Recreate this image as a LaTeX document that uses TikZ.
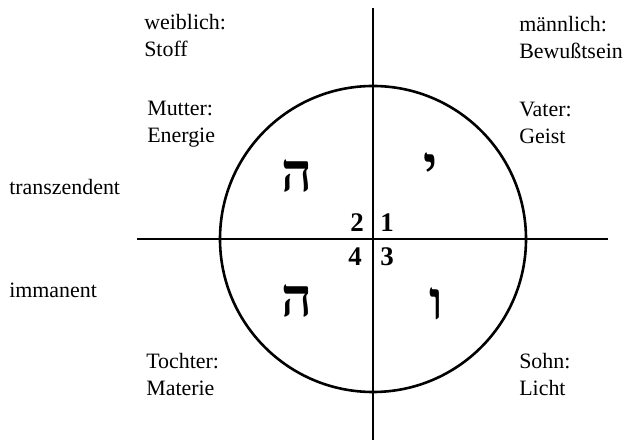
\documentclass[tikz,border=0pt]{standalone}
\usepackage{fontspec}
\setmainfont{Liberation Serif}
\newfontfamily\hebrewfont[Script=Hebrew]{Liberation Serif}
\usepackage{tikz}
\usetikzlibrary{positioning}

\begin{document}
\begin{tikzpicture}[x=1bp,y=1bp,line width=2.6bp,
      text node/.style={align=left,anchor=north west,inner sep=0pt,font=\fontsize{22}{27}\selectfont},
      side node/.style={anchor=west,inner sep=0pt,font=\fontsize{22}{27}\selectfont},
      num node/.style={inner sep=0pt,font=\fontsize{27}{27}\selectfont\bfseries},
      letter node/.style={inner sep=0pt,font=\hebrewfont\bfseries\fontsize{54}{54}\selectfont}]
      \useasboundingbox (0,0) rectangle (626,445);

      % axes and circle
      \coordinate (o) at (373,206);
      \coordinate (top) at (373,437);
      \coordinate (bottom) at (373,5);
      \coordinate (left) at (137,206);
      \coordinate (right) at (608,206);
      \draw (top) -- (bottom);
      \draw (left) -- (right);
      \draw (o) circle[radius=153];

      % outer labels
      \node[text node] (weiblich) at (143,432) {weiblich:\\Stoff};
      \node[text node] (maennlich) at (518,430) {männlich:\\Bewußtsein};
      \node[text node] (mutter) at (146,345) {Mutter:\\Energie};
      \node[text node] (vater) at (518,344) {Vater:\\Geist};
      \node[text node] (tochter) at (145,93) {Tochter:\\Materie};
      \node[text node] (sohn) at (518,93) {Sohn:\\Licht};
      \node[side node] (transz) at (8,258) {transzendent};
      \node[side node] (imman) at (8,155) {immanent};

      % numbers
      \node[num node] (n2) at (357,222) {2};
      \node[num node] (n1) at (387,222) {1};
      \node[num node] (n4) at (355,188) {4};
      \node[num node] (n3) at (387,188) {3};

      % letters
      \node[letter node] (he1) at (297,269) {ה};
      \node[letter node] (yod) at (431,276) {י};
      \node[letter node] (he2) at (297,144) {ה};
      \node[letter node] (vav) at (436,141) {ו};
\end{tikzpicture}
\end{document}
